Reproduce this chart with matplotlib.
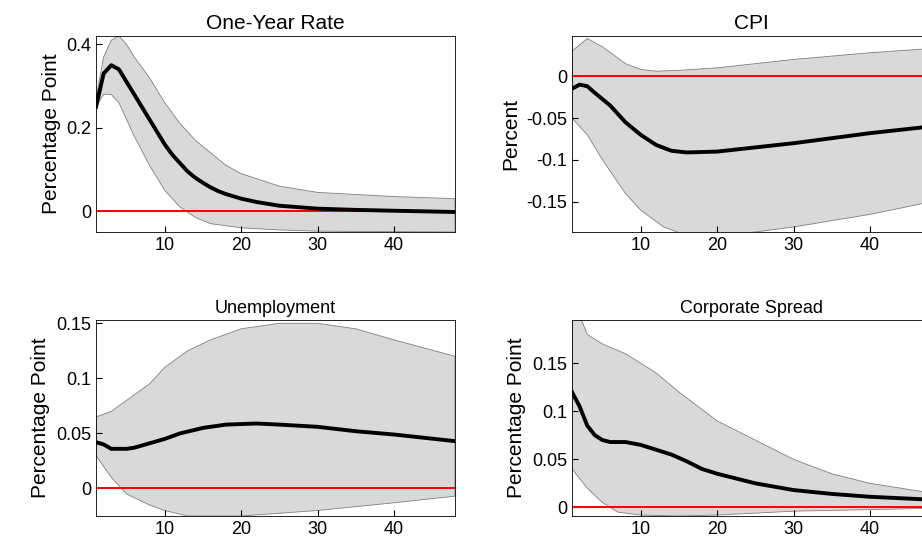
import matplotlib
matplotlib.use('Agg')
import matplotlib.pyplot as plt

plt.rcParams['font.family'] = ['Liberation Sans', 'DejaVu Sans']

# One-Year Rate
r_x = [1, 2, 3, 4, 5, 6, 7, 8, 9, 10, 11, 12, 13, 14, 15, 16, 17, 18, 20, 22, 25, 30, 35, 40, 48]
r_med = [0.25, 0.33, 0.35, 0.34, 0.31, 0.28, 0.25, 0.22, 0.19, 0.16, 0.135, 0.115, 0.095, 0.08,
         0.068, 0.057, 0.048, 0.041, 0.03, 0.022, 0.013, 0.006, 0.003, 0.001, -0.002]
r_bx = [1, 2, 3, 4, 5, 6, 8, 10, 12, 14, 16, 18, 20, 25, 30, 40, 48]
r_up = [0.27, 0.37, 0.41, 0.42, 0.40, 0.37, 0.32, 0.26, 0.21, 0.17, 0.14, 0.11, 0.09, 0.06, 0.045, 0.035, 0.03]
r_lx = [1, 2, 3, 4, 5, 6, 8, 10, 12, 14, 16, 20, 25, 30, 48]
r_lo = [0.25, 0.28, 0.28, 0.26, 0.22, 0.18, 0.11, 0.05, 0.01, -0.015, -0.03, -0.04, -0.045, -0.048, -0.05]

# CPI
c_x = [1, 2, 3, 4, 6, 8, 10, 12, 14, 16, 20, 25, 30, 35, 40, 48]
c_med = [-0.015, -0.01, -0.012, -0.02, -0.035, -0.055, -0.07, -0.082, -0.089, -0.091, -0.09,
         -0.085, -0.08, -0.074, -0.068, -0.06]
c_ux = [1, 3, 5, 8, 10, 12, 15, 20, 30, 40, 48]
c_up = [0.03, 0.045, 0.035, 0.015, 0.008, 0.006, 0.007, 0.01, 0.02, 0.028, 0.033]
c_lx = [1, 3, 5, 8, 10, 13, 16, 20, 25, 30, 40, 48]
c_lo = [-0.05, -0.07, -0.1, -0.14, -0.16, -0.18, -0.19, -0.19, -0.186, -0.18, -0.165, -0.15]

# Unemployment
u_x = [1, 2, 3, 5, 6, 8, 10, 12, 15, 18, 22, 25, 30, 35, 40, 48]
u_med = [0.042, 0.04, 0.036, 0.036, 0.037, 0.041, 0.045, 0.05, 0.055, 0.058, 0.059, 0.058,
         0.056, 0.052, 0.049, 0.043]
u_ux = [1, 3, 5, 8, 10, 13, 16, 20, 25, 30, 35, 40, 48]
u_up = [0.065, 0.07, 0.08, 0.095, 0.11, 0.125, 0.135, 0.145, 0.15, 0.15, 0.145, 0.135, 0.12]
u_lx = [1, 3, 5, 8, 10, 13, 20, 30, 40, 48]
u_lo = [0.03, 0.01, -0.005, -0.015, -0.02, -0.025, -0.025, -0.02, -0.013, -0.007]

# Corporate Spread
s_x = [1, 2, 3, 4, 5, 6, 8, 10, 12, 14, 16, 18, 20, 25, 30, 35, 40, 48]
s_med = [0.12, 0.105, 0.085, 0.075, 0.07, 0.068, 0.068, 0.065, 0.06, 0.055, 0.048, 0.04,
         0.035, 0.025, 0.018, 0.014, 0.011, 0.008]
s_ux = [1, 2, 3, 5, 8, 10, 12, 15, 20, 25, 30, 35, 40, 48]
s_up = [0.21, 0.2, 0.18, 0.17, 0.16, 0.15, 0.14, 0.12, 0.09, 0.07, 0.05, 0.035, 0.025, 0.015]
s_lx = [1, 3, 5, 7, 10, 15, 20, 30, 48]
s_lo = [0.04, 0.02, 0.005, -0.005, -0.008, -0.009, -0.008, -0.004, -0.001]

panels = [
    dict(title='One-Year Rate', tsize=15, ylabel='Percentage Point', med=(r_x, r_med), up=(r_bx, r_up),
         lo=(r_lx, r_lo), ylim=(-0.05, 0.42), yticks=[0, 0.2, 0.4], pos=[96, 36, 359, 196]),
    dict(title='CPI', tsize=15, ylabel='Percent', med=(c_x, c_med), up=(c_ux, c_up),
         lo=(c_lx, c_lo), ylim=(-0.186, 0.048), yticks=[-0.15, -0.1, -0.05, 0], pos=[572, 36, 359, 196]),
    dict(title='Unemployment', tsize=13, ylabel='Percentage Point', med=(u_x, u_med), up=(u_ux, u_up),
         lo=(u_lx, u_lo), ylim=(-0.025, 0.153), yticks=[0, 0.05, 0.1, 0.15], pos=[96, 320, 359, 196]),
    dict(title='Corporate Spread', tsize=13, ylabel='Percentage Point', med=(s_x, s_med), up=(s_ux, s_up),
         lo=(s_lx, s_lo), ylim=(-0.009, 0.195), yticks=[0, 0.05, 0.1, 0.15], pos=[572, 320, 359, 196]),
]

W, H = 922, 556
fig = plt.figure(figsize=(W / 100, H / 100), dpi=100)

for p in panels:
    l, t, w, h = p['pos']
    ax = fig.add_axes([l / W, 1 - (t + h) / H, w / W, h / H])
    ux, uy = p['up']
    lx, ly = p['lo']
    poly_x = list(ux) + list(lx)[::-1]
    poly_y = list(uy) + list(ly)[::-1]
    ax.fill(poly_x, poly_y, facecolor='#d9d9d9', edgecolor='#808080', linewidth=0.6)
    ax.axhline(0, color='red', linewidth=1.4)
    mx, my = p['med']
    ax.plot(mx, my, color='black', linewidth=2.8)
    ax.set_xlim(1, 48)
    ax.set_ylim(*p['ylim'])
    ax.set_xticks([10, 20, 30, 40])
    ax.set_yticks(p['yticks'])
    ax.set_yticklabels([f'{v:g}' for v in p['yticks']])
    ax.tick_params(direction='in', labelsize=13, length=4)
    ax.set_title(p['title'], fontsize=p['tsize'], pad=5)
    ax.set_ylabel(p['ylabel'], fontsize=15)
    for s in ax.spines.values():
        s.set_linewidth(0.6)

fig.savefig('out.png', dpi=100)
